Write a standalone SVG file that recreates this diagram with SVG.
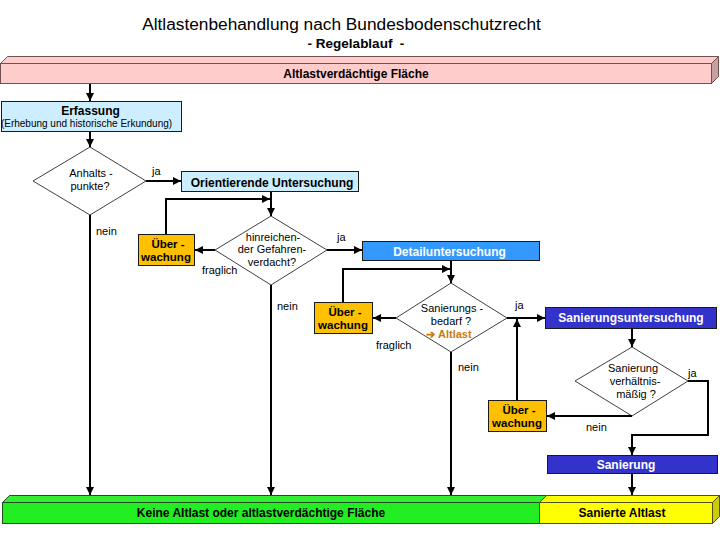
<svg xmlns="http://www.w3.org/2000/svg" width="720" height="540" viewBox="0 0 720 540">
<defs>
<marker id="ah" markerUnits="userSpaceOnUse" markerWidth="9" markerHeight="9" refX="8" refY="4" orient="auto">
<path d="M0,0 L8,4 L0,8 z" fill="#000"/>
</marker>
<style>
.t{font-family:"Liberation Sans",Arial,sans-serif;}
.b{font-weight:bold;font-size:12px;text-anchor:middle;}
.u{font-weight:bold;font-size:11.5px;text-anchor:middle;}
.d{font-size:11px;text-anchor:middle;fill:#000;}
.l{font-size:11px;fill:#000;}
.dia{fill:#fff;stroke:#404040;stroke-width:1;}
.lb{fill:#cceeff;stroke:#1a1a1a;stroke-width:1;}
.mb{fill:#3399ff;stroke:#1a1a1a;stroke-width:1;}
.db{fill:#3333cc;stroke:#1a1a1a;stroke-width:1;}
.ub{fill:#ffc000;stroke:#1a1a1a;stroke-width:1;}
.w{fill:#fff;}
.c{fill:none;stroke:#000;stroke-width:2;marker-end:url(#ah);}
</style>
</defs>
<rect width="720" height="540" fill="#fff"/>
<g id="title" class="t">
<text x="341.5" y="30" font-size="17.3" text-anchor="middle">Altlastenbehandlung nach Bundesbodenschutzrecht</text>
<text x="356" y="48" font-size="13.5" font-weight="bold" text-anchor="middle">- Regelablauf &#160;-</text>
</g>
<g id="bar-top" class="t">
<polygon points="0.5,63.5 7.5,56.5 718.5,56.5 711.5,63.5" fill="#ffcccc" stroke="#705050"/>
<polygon points="711.5,63.5 718.5,56.5 718.5,76.5 711.5,83.5" fill="#c8a0a0" stroke="#705050"/>
<rect x="0.5" y="63.5" width="711" height="20" fill="#ffcccc" stroke="#705050"/>
<text class="b" x="356" y="77.5">Altlastverdächtige Fläche</text>
</g>
<g id="erfassung" class="t">
<rect class="lb" x="1.5" y="101.5" width="180" height="30"/>
<text class="b" x="90.5" y="114.5">Erfassung</text>
<text x="86.5" y="127" font-size="10" text-anchor="middle">(Erhebung und historische Erkundung)</text>
</g>
<g id="anhaltspunkte" class="t">
<polygon class="dia" points="90,147 146,181 90,215 33,181"/>
<text class="d" x="91" y="176.5">Anhalts -</text>
<text class="d" x="90" y="189.5">punkte?</text>
</g>
<g id="orientierende" class="t">
<rect class="lb" x="181.5" y="171.5" width="177" height="20"/>
<text class="b" x="272" y="186.5">Orientierende Untersuchung</text>
</g>
<g id="gefahrenverdacht" class="t">
<polygon class="dia" points="271,216 327,250 271,285 215,250"/>
<text class="d" x="273" y="240.5">hinreichen-</text>
<text class="d" x="272" y="253.2">der Gefahren-</text>
<text class="d" x="272" y="266">verdacht?</text>
</g>
<g id="ueberwachung1" class="t">
<rect class="ub" x="138.5" y="234.5" width="56" height="31"/>
<text class="u" x="168" y="247.5">Über -</text>
<text class="u" x="166" y="260.7">wachung</text>
</g>
<g id="detail" class="t">
<rect class="mb" x="362.5" y="241.5" width="177" height="19"/>
<text class="b w" x="449.5" y="255.5">Detailuntersuchung</text>
</g>
<g id="sanierungsbedarf" class="t">
<polygon class="dia" points="451,283 507,318 451,352 396,318"/>
<text class="d" x="452" y="311.5">Sanierungs -</text>
<text class="d" x="451" y="324.5">bedarf ?</text>
<text x="449" y="337.5" font-size="11" font-weight="bold" text-anchor="middle" fill="#c87a14">➔ Altlast</text>
</g>
<g id="ueberwachung2" class="t">
<rect class="ub" x="314.5" y="302.5" width="58" height="31"/>
<text class="u" x="345" y="315.5">Über -</text>
<text class="u" x="343" y="328.7">wachung</text>
</g>
<g id="sanierungsuntersuchung" class="t">
<rect class="db" x="545.5" y="307.5" width="171" height="21"/>
<text class="b w" x="631" y="321.5">Sanierungsuntersuchung</text>
</g>
<g id="verhaeltnismaessig" class="t">
<polygon class="dia" points="632,347 688,381 632,416 575,381"/>
<text class="d" x="633" y="371.5">Sanierung</text>
<text class="d" x="635" y="384.5">verhältnis-</text>
<text class="d" x="636" y="397.5">mäßig ?</text>
</g>
<g id="ueberwachung3" class="t">
<rect class="ub" x="488.5" y="400.5" width="58" height="31"/>
<text class="u" x="519" y="413.5">Über -</text>
<text class="u" x="517" y="426.7">wachung</text>
</g>
<g id="sanierung" class="t">
<rect class="db" x="547.5" y="455.5" width="170" height="18"/>
<text class="b w" x="626" y="469">Sanierung</text>
</g>
<g id="bar-keine" class="t">
<polygon points="2.5,502.5 9.5,495.5 546.5,495.5 539.5,502.5" fill="#33ee33" stroke="#1f4f1f"/>
<rect x="2.5" y="502.5" width="537" height="21" fill="#22ee22" stroke="#1f4f1f"/>
<text class="b" x="261" y="516.5">Keine Altlast oder altlastverdächtige Fläche</text>
</g>
<g id="bar-saniert" class="t">
<polygon points="539.5,502.5 546.5,495.5 719.5,495.5 712.5,502.5" fill="#ffff00" stroke="#4f4f1f"/>
<polygon points="712.5,502.5 719.5,495.5 719.5,516.5 712.5,523.5" fill="#cccc00" stroke="#4f4f1f"/>
<rect x="539.5" y="502.5" width="173" height="21" fill="#ffff00" stroke="#4f4f1f"/>
<text class="b" x="622" y="516.5">Sanierte Altlast</text>
</g>
<g id="connectors">
<path class="c" d="M90,84 V101"/>
<path class="c" d="M90,132 V147"/>
<path class="c" d="M146,181 H181"/>
<path class="c" d="M90,215 V495"/>
<path class="c" d="M271,192 V216"/>
<path class="c" d="M166,234 V199 H270"/>
<path class="c" d="M215,250 H195"/>
<path class="c" d="M327,250 H362"/>
<path class="c" d="M271,285 V495"/>
<path class="c" d="M451,261 V283"/>
<path class="c" d="M343,302 V269 H450"/>
<path class="c" d="M396,318 H373"/>
<path class="c" d="M507,318 H545"/>
<path class="c" d="M451,352 V495"/>
<path class="c" d="M517,400 V319"/>
<path class="c" d="M632,329 V347"/>
<path class="c" d="M632,416 H547"/>
<path class="c" d="M688,381 H708 V435 H632 V455"/>
<path class="c" d="M632,474 V495"/>
</g>
<g id="labels" class="t">
<text class="l" x="152" y="175">ja</text>
<text class="l" x="96" y="235">nein</text>
<text class="l" x="337" y="241">ja</text>
<text class="l" x="202" y="274">fraglich</text>
<text class="l" x="277" y="310">nein</text>
<text class="l" x="515" y="309">ja</text>
<text class="l" x="376" y="349">fraglich</text>
<text class="l" x="458" y="371">nein</text>
<text class="l" x="688" y="377">ja</text>
<text class="l" x="586" y="431">nein</text>
</g>
</svg>
